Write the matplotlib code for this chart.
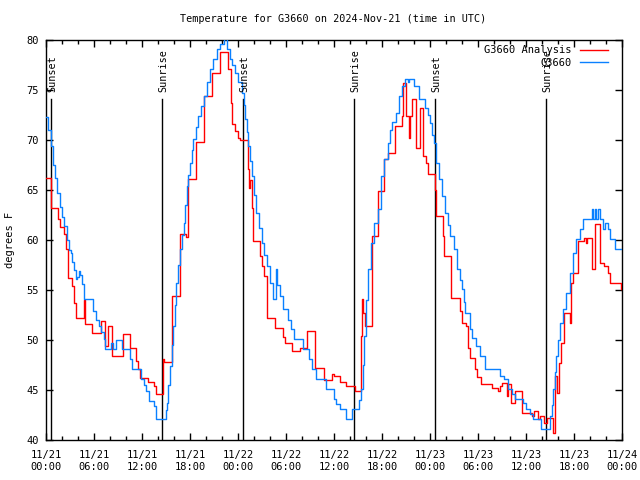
import matplotlib
matplotlib.use("Agg")
import matplotlib.pyplot as plt
import matplotlib.dates as mdates
from matplotlib.lines import Line2D
from datetime import datetime, timedelta

start = datetime(2024, 11, 21)
end = datetime(2024, 11, 24)

# Observed station (blue) – hours after start, degrees F
obs_hours = [0.0, 0.3, 0.6, 0.9, 1.1, 1.4, 1.7, 2.0, 2.25, 2.6, 2.9, 3.1, 3.3, 3.5, 3.7, 3.9, 4.1, 4.3, 4.5,
             4.75, 5.85, 6.2, 6.6, 6.9, 7.25, 7.4, 8.1, 8.4, 8.8, 9.5, 10.5, 10.7, 11.9, 12.2, 12.5, 12.9,
             13.5, 13.8, 15.0, 15.1, 15.3, 15.5, 15.7, 15.9, 16.1, 16.3, 16.5, 16.75, 17.0, 17.2, 17.4,
             17.6, 17.8, 18.0, 18.2, 18.4, 18.7, 19.0, 19.35, 19.7, 20.1, 20.5, 20.9, 21.4, 21.8, 22.2,
             22.6, 23.0, 23.3, 23.6, 24.0, 24.5, 24.7, 24.9, 25.1, 25.3, 25.5, 25.7, 26.0, 26.3, 26.6,
             27.0, 27.3, 27.6, 28.0, 28.4, 28.7, 28.9, 29.2, 29.6, 30.1, 30.3, 30.6, 31.0, 32.1, 32.9,
             33.3, 33.75, 35.0, 36.0, 36.3, 36.7, 37.5, 38.3, 39.1, 39.4, 39.6, 39.8, 40.0, 40.2, 40.6,
             41.0, 41.5, 41.9, 42.3, 42.7, 43.0, 43.3, 43.7, 44.1, 44.5, 44.9, 45.2, 45.4, 46.0, 46.6,
             47.4, 47.7, 48.0, 48.3, 48.5, 48.7, 49.1, 49.5, 49.9, 50.2, 50.5, 51.0, 51.4, 51.7, 52.0,
             52.2, 52.4, 53.0, 53.3, 53.7, 54.3, 54.9, 56.8, 57.3, 57.75, 58.2, 58.6, 59.6, 60.0, 60.5,
             60.9, 61.9, 63.0, 63.2, 63.4, 63.6, 63.8, 64.0, 64.2, 64.6, 65.0, 65.5, 65.9, 66.3, 66.7,
             67.1, 68.2, 68.4, 68.6, 68.8, 69.0, 69.3, 69.6, 69.9, 70.2, 70.5, 71.1, 72.0]
obs_temp = [72.3, 71.0, 69.4, 67.5, 66.2, 64.7, 63.3, 62.3, 61.4, 60.0, 59.0, 58.7, 57.8, 57.0, 56.1, 56.3, 56.9, 56.5, 55.6,
            54.1, 52.9, 52.0, 51.4, 50.8, 50.1, 49.1, 49.7, 49.1, 50.0, 49.1, 48.1, 47.1, 46.1, 45.5, 44.9, 43.9,
            43.4, 42.1, 43.0, 43.7, 45.5, 47.4, 49.5, 51.4, 53.5, 55.7, 57.5, 59.1, 60.5, 61.7, 63.5,
            65.4, 66.5, 67.7, 69.0, 70.1, 71.3, 72.4, 73.4, 74.4, 75.8, 77.1, 78.1, 79.1, 79.6, 80.1,
            79.1, 78.1, 77.5, 76.7, 75.8, 74.7, 73.5, 72.1, 70.8, 69.4, 67.9, 66.4, 64.5, 62.7, 61.2,
            59.7, 58.5, 57.4, 55.7, 54.1, 57.1, 55.5, 54.4, 53.1, 53.1, 52.0, 51.1, 50.1, 49.1, 48.1,
            47.1, 46.1, 45.1, 44.1, 43.6, 43.1, 42.1, 43.1, 44.0, 45.1, 47.5, 50.4, 54.0, 57.1, 59.7,
            61.7, 63.1, 66.4, 68.1, 69.7, 71.0, 71.8, 72.7, 74.4, 75.4, 76.1, 75.8, 76.1, 75.4, 74.1,
            73.2, 72.5, 71.7, 70.5, 69.7, 67.7, 66.1, 64.4, 62.7, 61.5, 60.4, 59.1, 57.1, 56.0, 55.1,
            53.8, 52.7, 51.1, 50.2, 49.4, 48.4, 47.1, 46.4, 46.1, 45.1, 44.6, 44.1, 43.7, 43.1, 42.6,
            42.1, 41.1, 42.4, 43.5, 45.1, 46.8, 48.4, 50.0, 51.7, 53.1, 54.7, 56.7, 58.7, 60.1, 61.1,
            62.1, 63.1, 62.1, 63.1, 62.1, 63.1, 62.1, 61.1, 61.7, 61.1, 60.1, 59.1, 59.1]

# Analysis (red) – hours after start, degrees F
ana_hours = [0.0, 0.65, 1.5, 1.8, 2.25, 2.5, 2.7, 3.2, 3.5, 3.7, 3.8, 4.75, 4.85, 5.8, 6.9, 7.4, 7.8, 8.2,
             9.6, 10.5, 11.2, 11.5, 11.8, 12.7, 13.5, 13.8, 14.6, 14.8, 15.7, 15.8, 16.75, 17.5, 17.75,
             18.7, 19.8, 20.8, 21.75, 22.7, 23.1, 23.3, 23.6, 24.0, 24.3, 25.2, 25.4, 25.5, 25.75, 25.9,
             26.8, 27.0, 27.2, 27.6, 28.6, 29.6, 29.9, 30.7, 31.75, 32.6, 33.6, 34.8, 35.7, 36.0, 36.8,
             37.5, 38.6, 39.4, 39.5, 39.6, 39.9, 40.7, 41.5, 42.2, 42.8, 43.6, 44.5, 44.6, 45.0, 45.35,
             45.45, 45.7, 46.3, 46.7, 47.15, 47.5, 47.8, 48.6, 48.8, 49.6, 49.7, 50.6, 51.7, 52.0, 52.5,
             52.8, 53.0, 53.6, 53.9, 54.4, 55.8, 56.5, 56.7, 57.0, 57.6, 57.75, 58.1, 58.6, 59.5, 60.7,
             61.0, 61.5, 61.7, 62.3, 62.6, 63.4, 63.6, 63.9, 64.1, 64.4, 64.75, 65.5, 65.6, 65.9, 66.5,
             67.3, 67.5, 67.6, 68.3, 68.6, 69.3, 69.8, 70.3, 70.5, 71.9, 72.0]
ana_temp = [66.2, 63.2, 62.1, 61.3, 60.6, 59.1, 56.2, 55.4, 53.7, 52.7, 52.2, 54.0, 51.6, 50.7, 51.9, 49.4, 51.4, 48.4,
            50.6, 49.2, 47.9, 47.1, 46.2, 45.8, 45.4, 44.6, 48.1, 47.8, 50.4, 54.4, 60.6, 60.3, 66.1,
            69.8, 74.4, 76.7, 78.8, 77.1, 73.7, 71.6, 70.9, 70.2, 70.0, 67.1, 65.2, 66.0, 63.2, 59.9,
            58.4, 57.4, 56.4, 52.2, 51.2, 50.3, 49.7, 48.9, 49.2, 50.9, 47.2, 46.0, 46.6, 46.4, 45.8,
            45.4, 44.9, 50.4, 54.1, 52.7, 51.4, 60.4, 64.9, 68.1, 68.7, 71.4, 72.4, 75.7, 72.4, 70.2,
            72.4, 74.1, 69.2, 73.2, 68.4, 67.7, 66.6, 65.0, 62.4, 60.4, 58.4, 54.2, 52.9, 51.7, 51.4,
            49.2, 48.2, 47.1, 46.3, 45.6, 45.2, 44.9, 45.4, 45.7, 44.4, 45.6, 43.7, 44.9, 42.7, 42.4,
            42.9, 42.1, 42.4, 41.7, 42.2, 40.7, 46.4, 44.7, 47.7, 49.7, 52.7, 51.7, 55.7, 56.7, 59.9,
            60.2, 59.7, 60.2, 57.1, 61.6, 57.7, 57.4, 56.7, 55.7, 55.1, 55.0]

sun_hours = [0.67, 14.54, 24.67, 38.54, 48.67, 62.54]
sun_labels = ["Sunset", "Sunrise", "Sunset", "Sunrise", "Sunset", "Sunrise"]

y_ticks = [40, 45, 50, 55, 60, 65, 70, 75, 80]

FONT = "DejaVu Sans Mono"
plt.rcParams["font.family"] = FONT

def to_dt(hs):
    return [start + timedelta(hours=h) for h in hs]

fig = plt.figure(figsize=(6.4, 4.8), dpi=100)
ax = fig.add_axes([46 / 640, 40 / 480, 576 / 640, 400 / 480])

ax.plot(to_dt(ana_hours), ana_temp, drawstyle="steps-post", color="#ff0000", lw=1.0, zorder=3)
ax.plot(to_dt(obs_hours), obs_temp, drawstyle="steps-post", color="#0a80ff", lw=1.0, zorder=3)

for h, lab in zip(sun_hours, sun_labels):
    t = start + timedelta(hours=h)
    ax.plot([t, t], [40, 74.1], color="black", lw=1.0, zorder=2)
    ax.text(t + timedelta(hours=0.08), 74.8, lab, rotation=90, ha="center", va="bottom",
            fontsize=7.3, color="black", zorder=4)

ax.set_xlim(start, end)
ax.set_ylim(40, 80)
ax.set_yticks(y_ticks)
ax.xaxis.set_major_locator(mdates.HourLocator(byhour=[0, 6, 12, 18]))
ax.xaxis.set_minor_locator(mdates.HourLocator(byhour=list(range(0, 24, 2))))
ax.xaxis.set_major_formatter(mdates.DateFormatter("%m/%d\n%H:%M"))

ax.tick_params(axis="both", which="major", direction="in", length=5, width=1.0,
               top=True, right=True, labelsize=7.5, colors="black")
ax.tick_params(axis="x", which="major", pad=7)
ax.tick_params(axis="y", which="major", pad=5)
ax.tick_params(axis="x", which="minor", direction="in", length=3, width=1.0, top=True)
for lbl in ax.get_xticklabels():
    lbl.set_linespacing(1.25)
for s in ax.spines.values():
    s.set_linewidth(1.0)
    s.set_color("black")

ax.set_ylabel("degrees F", fontsize=7.5)
ax.yaxis.set_label_coords(-0.053, 0.5)

fig.text(333 / 640, 1 - 19 / 480, "Temperature for G3660 on 2024-Nov-21 (time in UTC)",
         ha="center", va="center", fontsize=7.3)

handles = [Line2D([], [], color="#ff0000", lw=1.0), Line2D([], [], color="#0a80ff", lw=1.0)]
leg = ax.legend(handles, ["G3660 Analysis", "G3660"], loc="upper right",
                bbox_to_anchor=(1.0 - 9 / 576, 1.0),
                frameon=False, fontsize=7.5, markerfirst=False, handlelength=2.7,
                handletextpad=0.8, labelspacing=0.25, borderaxespad=0.0, borderpad=0.5)
leg.set_zorder(5)

fig.savefig("out.png", dpi=100, facecolor="white")
